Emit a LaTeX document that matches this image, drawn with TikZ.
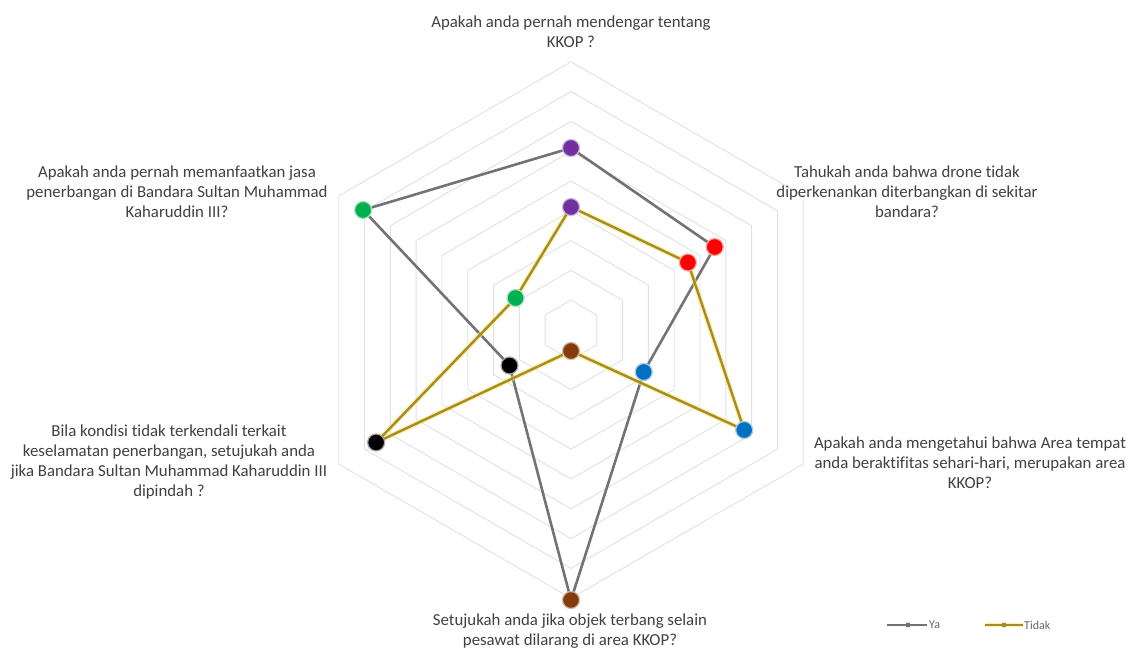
\documentclass[tikz,border=0pt]{standalone}
\usepackage{fontspec}
\setmainfont{Carlito}[Ligatures=NoCommon]
\usetikzlibrary{positioning}

\definecolor{gridgray}{RGB}{225,225,225}
\definecolor{textgray}{RGB}{64,64,64}
\definecolor{yagray}{RGB}{115,115,115}
\definecolor{tidakgold}{RGB}{165,140,36}
\definecolor{glowyellow}{RGB}{255,228,110}
\definecolor{qpurple}{RGB}{112,48,160}
\definecolor{qred}{RGB}{255,0,0}
\definecolor{qblue}{RGB}{0,112,192}
\definecolor{qbrown}{RGB}{132,60,12}
\definecolor{qgreen}{RGB}{0,176,80}

\begin{document}
\begin{tikzpicture}[x=1pt,y=1pt,
    ring/.style={draw=gridgray,line width=0.9pt},
    ya/.style={draw=yagray,line width=2.6pt,line join=round},
    tidak/.style={draw=tidakgold,line width=2.4pt,line join=round,
        preaction={draw=glowyellow,line width=4.8pt,opacity=0.6}},
    dot/.style={circle,fill=#1,draw=#1!35,line width=1.2pt,
        inner sep=0pt,minimum size=17pt},
    question/.style={text=textgray,align=center,inner sep=0pt,
        font=\fontsize{16.8}{19.8}\selectfont},
    legtext/.style={text=textgray!80,inner sep=0pt,
        font=\fontsize{12}{14}\selectfont}]

  \useasboundingbox (-571,-320) rectangle (565,330);

  % grid rings
  \foreach \k in {1,...,9} {
    \pgfmathsetmacro{\r}{\k*29.8}
    \draw[ring] (90:\r) -- (30:\r) -- (-30:\r) -- (-90:\r)
      -- (210:\r) -- (150:\r) -- cycle;
  }

  % data points
  \coordinate (ya1) at (90:182);
  \coordinate (ya2) at (30:166);
  \coordinate (ya3) at (-30:84);
  \coordinate (ya4) at (-90:270);
  \coordinate (ya5) at (210:71);
  \coordinate (ya6) at (150:240);

  \coordinate (td1) at (90:123);
  \coordinate (td2) at (30:135);
  \coordinate (td3) at (-30:200);
  \coordinate (td4) at (-90:21);
  \coordinate (td5) at (210:225);
  \coordinate (td6) at (150:64);

  \draw[ya] (ya1) -- (ya2) -- (ya3) -- (ya4) -- (ya5) -- (ya6) -- cycle;
  \draw[tidak] (td1) -- (td2) -- (td3) -- (td4) -- (td5) -- (td6) -- cycle;

  \foreach \s in {ya,td} {
    \node[dot=qpurple] at (\s1) {};
    \node[dot=qred]    at (\s2) {};
    \node[dot=qblue]   at (\s3) {};
    \node[dot=qbrown]  at (\s4) {};
    \node[dot=black]   at (\s5) {};
    \node[dot=qgreen]  at (\s6) {};
  }

  % questions
  \node[question] (q1) at (0,298)
    {Apakah anda pernah mendengar tentang\\KKOP ?};
  \node[question] (q2) at (336,138)
    {Tahukah anda bahwa drone tidak\\diperkenankan diterbangkan di sekitar\\bandara?};
  \node[question] (q3) at (399,-133)
    {Apakah anda mengetahui bahwa Area tempat\\anda beraktifitas sehari-hari, merupakan area\\KKOP?};
  \node[question] (q4) at (-1,-301)
    {Setujukah anda jika objek terbang selain\\pesawat dilarang di area KKOP?};
  \node[question] (q5) at (-402,-132)
    {Bila kondisi tidak terkendali terkait\\keselamatan penerbangan, setujukah anda\\jika Bandara Sultan Muhammad Kaharuddin III\\dipindah ?};
  \node[question] (q6) at (-394,138)
    {Apakah anda pernah memanfaatkan jasa\\penerbangan di Bandara Sultan Muhammad\\Kaharuddin III?};

  % legend
  \coordinate (yaA) at (316,-295);
  \coordinate (yaB) at (356,-295);
  \coordinate (tdA) at (414,-295);
  \coordinate (tdB) at (452,-295);
  \draw[ya,line width=2pt] (yaA) -- (yaB);
  \draw[tidak,line width=2pt] (tdA) -- (tdB);
  \node[circle,fill=yagray,inner sep=0pt,minimum size=5pt] at (337,-295) {};
  \node[circle,fill=tidakgold,inner sep=0pt,minimum size=5pt] at (433,-295) {};
  \node[legtext,right=2pt of yaB] (lya) {Ya};
  \node[legtext,right=1pt of tdB] (ltd) {Tidak};

\end{tikzpicture}
\end{document}
